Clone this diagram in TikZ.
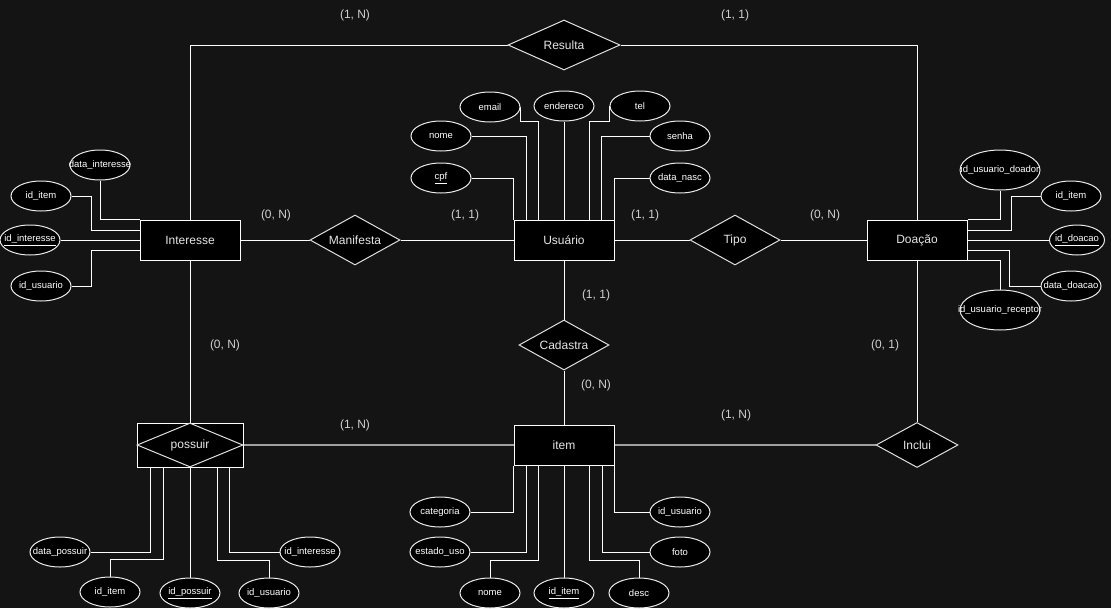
\documentclass[tikz,border=0pt]{standalone}
\usepackage{fontspec}
\setmainfont{Liberation Sans}
\usepackage{xcolor}
\usepackage{tikz}
\usetikzlibrary{shapes.geometric,calc}
\definecolor{canvas}{HTML}{141414}
\definecolor{faintline}{HTML}{A0A0A0}
\definecolor{labelgray}{HTML}{E6E6E6}
\definecolor{cardgray}{HTML}{D0D0D0}
\newcommand{\attname}[1]{\makebox[0pt]{#1}}
\pgfdeclarelayer{bg}
\pgfdeclarelayer{edges}
\pgfsetlayers{bg,edges,main}

\begin{document}
\begin{tikzpicture}[x=1pt,y=-1pt,
  entity/.style={draw=white, fill=black, text=labelgray, line width=1pt, inner sep=0pt,
    minimum width=100pt, minimum height=40pt, font=\fontsize{12}{14}\selectfont},
  relation/.style={diamond, aspect=1.8, draw=white!88!black, fill=black, text=labelgray, line width=1pt,
    inner sep=0pt, minimum width=90pt, minimum height=50pt, font=\fontsize{12}{14}\selectfont},
  attrib/.style={ellipse, draw=white!92!black, fill=black, text=white, line width=1pt, inner sep=0pt,
    minimum width=60pt, minimum height=30pt, font=\fontsize{9.5}{11}\selectfont},
  card/.style={text=cardgray, inner sep=0pt, font=\fontsize{12}{14}\selectfont},
  link/.style={draw=white, line width=1pt},
  faint/.style={draw=faintline, line width=1.2pt}
]
\useasboundingbox (0,0) rectangle (1111,608);
\begin{pgfonlayer}{bg}
  \fill[canvas] (0,0) rectangle (1111,608);
\end{pgfonlayer}

% entities
\node[entity] (usuario) at (564,240) {Usuário};
\node[entity] (interesse) at (190,240) {Interesse};
\node[entity] (doacao) at (917,240) {Doação};
\node[entity] (item) at (564,445) {item};
\node[entity, minimum width=106pt, minimum height=44pt] (possuirbox) at (190,445) {};
\node[relation, aspect=2.4, minimum width=106pt, minimum height=44pt] (possuir) at (190,445) {possuir};

% relationships
\node[relation, aspect=2.2, minimum width=112pt] (resulta) at (564,45) {Resulta};
\node[relation] (manifesta) at (355,240) {Manifesta};
\node[relation] (tipo) at (735,240) {Tipo};
\node[relation] (cadastra) at (564,345) {Cadastra};
\node[relation, minimum width=82pt, minimum height=45pt] (inclui) at (917,445) {Inclui};

% cardinalities
\node[card] (cresint) at (355,15) {(1, N)};
\node[card] (cresdoa) at (735,15) {(1, 1)};
\node[card] (cmanint) at (276,215) {(0, N)};
\node[card] (cmanusu) at (465,215) {(1, 1)};
\node[card] (ctipusu) at (645,215) {(1, 1)};
\node[card] (ctipdoa) at (825,215) {(0, N)};
\node[card] (ccadusu) at (596,295) {(1, 1)};
\node[card] (ccaditem) at (596,385) {(0, N)};
\node[card] (cposint) at (225,345) {(0, N)};
\node[card] (cincdoa) at (885,345) {(0, 1)};
\node[card] (cpositem) at (355,425) {(1, N)};
\node[card] (cincitem) at (736,415) {(1, N)};

% attributes of Usuario
\node[attrib] (email) at (490,107) {\attname{email}};
\node[attrib] (endereco) at (564,106) {\attname{endereco}};
\node[attrib] (tel) at (640,106) {\attname{tel}};
\node[attrib] (nome) at (441,136) {\attname{nome}};
\node[attrib] (senha) at (680,136) {\attname{senha}};
\node[attrib] (cpf) at (441,178) {\attname{\underline{cpf}}};
\node[attrib] (datanasc) at (680,178) {\attname{data\_nasc}};

% attributes of Interesse
\node[attrib] (datainteresse) at (100,165) {\attname{data\_interesse}};
\node[attrib] (iditemint) at (41,196) {\attname{id\_item}};
\node[attrib] (idinteresse) at (30,240) {\attname{\underline{id\_interesse}}};
\node[attrib] (idusuarioint) at (41,286) {\attname{id\_usuario}};

% attributes of Doacao
\node[attrib, minimum width=80pt, minimum height=40pt] (doador) at (1000,170) {\attname{id\_usuario\_doador}};
\node[attrib] (iditemdoa) at (1071,196) {\attname{id\_item}};
\node[attrib, minimum width=55pt] (iddoacao) at (1077,240) {\attname{\underline{id\_doacao}}};
\node[attrib] (datadoacao) at (1071,286) {\attname{data\_doacao}};
\node[attrib, minimum width=80pt, minimum height=40pt] (receptor) at (1000,310) {\attname{id\_usuario\_receptor}};

% attributes of item
\node[attrib] (categoria) at (440,512) {\attname{categoria}};
\node[attrib] (estadouso) at (440,552) {\attname{estado\_uso}};
\node[attrib] (nomeitem) at (490,593) {\attname{nome}};
\node[attrib] (iditem) at (564,593) {\attname{\underline{id\_item}}};
\node[attrib] (descitem) at (639,593) {\attname{desc}};
\node[attrib] (fotoitem) at (680,552) {\attname{foto}};
\node[attrib] (idusuarioitem) at (680,512) {\attname{id\_usuario}};

% attributes of possuir
\node[attrib] (datapossuir) at (60,552) {\attname{data\_possuir}};
\node[attrib] (iditempos) at (110,592) {\attname{id\_item}};
\node[attrib] (idpossuir) at (190,593) {\attname{\underline{id\_possuir}}};
\node[attrib] (idusuariopos) at (269,593) {\attname{id\_usuario}};
\node[attrib] (idinteressepos) at (310,552) {\attname{id\_interesse}};

\begin{pgfonlayer}{edges}
% relationship lines
\draw[link] (interesse.north) |- (resulta.west);
\draw[link] (resulta.east) -| (doacao.north);
\draw[link] (interesse) -- (manifesta);
\draw[link] (manifesta) -- (usuario);
\draw[link] (usuario) -- (tipo);
\draw[link] (tipo) -- (doacao);
\draw[link] (usuario) -- (cadastra);
\draw[link] (cadastra) -- (item);
\draw[link] (interesse) -- (possuirbox);
\draw[faint] (possuirbox.east) -- (item.west);
\draw[faint] (item) -- (inclui);
\draw[link] (doacao) -- (inclui);

% Usuario attribute lines
\draw[link] (cpf.east) -| (usuario.north west);
\draw[link] (nome.east) -| ([xshift=13pt]usuario.north west);
\draw[link] (email.east) -- ++(0,14) -| ([xshift=25pt]usuario.north west);
\draw[link] (endereco) -- (usuario);
\draw[link] (tel.west) -- ++(0,15) -| ([xshift=-25pt]usuario.north east);
\draw[link] (senha.west) -| ([xshift=-13pt]usuario.north east);
\draw[link] (datanasc.west) -| (usuario.north east);

% Interesse attribute lines
\draw[link] (datainteresse.south) |- (interesse.north west);
\draw[link] (iditemint.east) -- ++(20,0) |- ([yshift=10pt]interesse.west);
\draw[link] (idinteresse) -- (interesse);
\draw[link] (idusuarioint.east) -- ++(20,0) |- ([yshift=-10pt]interesse.west);

% Doacao attribute lines
\draw[link] (doador.south) |- (doacao.north east);
\draw[link] (iditemdoa.west) -- ++(-29,0) |- ([yshift=10pt]doacao.east);
\draw[link] (iddoacao) -- (doacao);
\draw[link] (datadoacao.west) -- ++(-31,0) |- ([yshift=-10pt]doacao.east);
\draw[link] (receptor.north) |- (doacao.south east);

% item attribute lines
\draw[link] (categoria.east) -| (item.south west);
\draw[link] (estadouso.east) -| ([xshift=13pt]item.south west);
\draw[link] (nomeitem.north) -- ++(0,-17) -| ([xshift=25pt]item.south west);
\draw[link] (iditem) -- (item);
\draw[link] (descitem.north) -- ++(0,-17) -| ([xshift=-25pt]item.south east);
\draw[link] (fotoitem.west) -| ([xshift=-12pt]item.south east);
\draw[link] (idusuarioitem.west) -| (item.south east);

% possuir attribute lines
\draw[link] (datapossuir.east) -| ([xshift=14pt]possuirbox.south west);
\draw[link] (iditempos.north) -- ++(0,-17) -| ([xshift=27pt]possuirbox.south west);
\draw[link] (idpossuir) -- (possuirbox);
\draw[link] (idusuariopos.north) -- ++(0,-17) -| ([xshift=-26pt]possuirbox.south east);
\draw[link] (idinteressepos.west) -| ([xshift=-14pt]possuirbox.south east);
\end{pgfonlayer}
\end{tikzpicture}
\end{document}
